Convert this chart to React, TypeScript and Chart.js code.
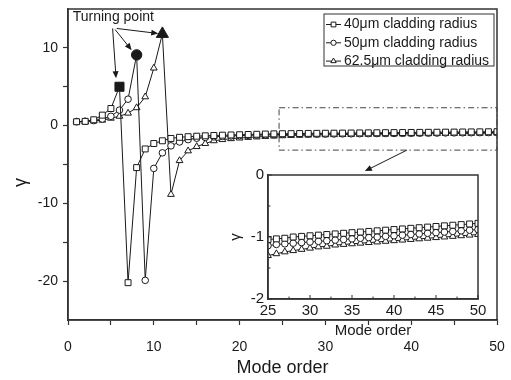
import React, { useEffect, useRef } from 'react';
import { Chart, registerables } from 'chart.js';

Chart.register(...registerables);

const FONT = "'Liberation Sans', Arial, Helvetica, sans-serif";

// ---------- data ----------
const modeOrder = [
  1, 2, 3, 4, 5, 6, 7, 8, 9, 10, 11, 12, 13, 14, 15, 16, 17, 18, 19, 20, 21, 22, 23, 24, 25,
  26, 27, 28, 29, 30, 31, 32, 33, 34, 35, 36, 37, 38, 39, 40, 41, 42, 43, 44, 45, 46, 47, 48, 49, 50,
];

const clad40 = [
  0.5, 0.55, 0.75, 1.35, 2.2, 5.0, -20.2, -5.4, -3.0, -2.3, -1.95, -1.65, -1.5, -1.42, -1.36, -1.31, -1.27,
  -1.23, -1.2, -1.17, -1.14, -1.11, -1.08, -1.06, -1.04, -1.03, -1.02, -1.0, -0.99, -0.98, -0.97, -0.96,
  -0.95, -0.94, -0.93, -0.92, -0.91, -0.9, -0.89, -0.88, -0.87, -0.86, -0.85, -0.84, -0.83, -0.82, -0.81,
  -0.8, -0.79, -0.78,
];

const clad50 = [
  0.5, 0.55, 0.65, 0.85, 1.2, 2.0, 3.4, 9.1, -19.9, -5.5, -3.5, -2.6, -2.1, -1.8, -1.62, -1.52, -1.44,
  -1.38, -1.33, -1.29, -1.25, -1.22, -1.19, -1.16, -1.14, -1.12, -1.11, -1.1, -1.09, -1.08, -1.07, -1.06,
  -1.05, -1.04, -1.03, -1.02, -1.01, -1.0, -0.99, -0.98, -0.97, -0.96, -0.95, -0.94, -0.93, -0.92, -0.91,
  -0.9, -0.89, -0.88,
];

const clad625 = [
  0.5, 0.5, 0.6, 0.7, 0.95, 1.2, 1.6, 2.3, 3.7, 7.4, 11.8, -8.85, -4.5, -3.25, -2.7, -2.3, -1.95, -1.8,
  -1.68, -1.6, -1.52, -1.46, -1.4, -1.35, -1.3, -1.27, -1.24, -1.22, -1.2, -1.18, -1.16, -1.15, -1.13,
  -1.12, -1.11, -1.1, -1.09, -1.08, -1.07, -1.06, -1.05, -1.04, -1.03, -1.02, -1.01, -1.0, -0.99, -0.98,
  -0.97, -0.96,
];

const seriesLabels = ['40\u03bcm cladding radius', '50\u03bcm cladding radius', '62.5\u03bcm cladding radius'];
const seriesValues = [clad40, clad50, clad625];
const turningIndex = [5, 7, 10];

// annotation anchors (data units of the main chart)
const turningText = 'Turning point';
const turningTextAt = [0.55, 13.95];
const turningArrows = [
  [[5.2, 12.5], [5.6, 6.1]],
  [[5.48, 12.37], [7.42, 9.7]],
  [[5.68, 12.5], [10.52, 11.85]],
];
const zoomBoxX = [24.6, 50];
const zoomBoxY = [-3.15, 2.3];
const zoomArrow = [[39.5, -3.15], [34.6, -5.85]];

// ---------- styles ----------
const pointStyles = ['rect', 'circle', 'triangle'];
const openRadius = [4.2, 3.3, 3.9];
const filledRadius = [6.4, 5.2, 7];
const INK = '#1a1a1a';
const AXIS = '#333';

function drawMarker(ctx: CanvasRenderingContext2D, style: string, x: number, y: number, r: number, fill: string) {
  ctx.beginPath();
  if (style === 'rect') {
    const s = Math.SQRT1_2 * r;
    ctx.rect(x - s, y - s, 2 * s, 2 * s);
  } else if (style === 'circle') {
    ctx.arc(x, y, r, 0, Math.PI * 2);
  } else {
    for (let k = 0; k < 3; k++) {
      const a = (k * 2 * Math.PI) / 3;
      const px = x + Math.sin(a) * r;
      const py = y - Math.cos(a) * r;
      if (k === 0) ctx.moveTo(px, py);
      else ctx.lineTo(px, py);
    }
    ctx.closePath();
  }
  ctx.fillStyle = fill;
  ctx.fill();
  ctx.stroke();
}

function drawArrow(ctx: CanvasRenderingContext2D, x1: number, y1: number, x2: number, y2: number) {
  const ang = Math.atan2(y2 - y1, x2 - x1);
  const hl = 7;
  const hw = 3;
  ctx.beginPath();
  ctx.moveTo(x1, y1);
  ctx.lineTo(x2 - Math.cos(ang) * hl * 0.8, y2 - Math.sin(ang) * hl * 0.8);
  ctx.stroke();
  ctx.beginPath();
  ctx.moveTo(x2, y2);
  ctx.lineTo(x2 - Math.cos(ang) * hl - Math.sin(ang) * hw, y2 - Math.sin(ang) * hl + Math.cos(ang) * hw);
  ctx.lineTo(x2 - Math.cos(ang) * hl + Math.sin(ang) * hw, y2 - Math.sin(ang) * hl - Math.cos(ang) * hw);
  ctx.closePath();
  ctx.fill();
}

function makeDatasets(withTurning: boolean) {
  return seriesValues.map((vals, k) => ({
    label: seriesLabels[k],
    data: modeOrder.map((m, i) => ({ x: m, y: vals[i] })),
    borderColor: INK,
    borderWidth: 1,
    pointStyle: pointStyles[k],
    pointRadius: modeOrder.map((_, i) => (withTurning && i === turningIndex[k] ? filledRadius[k] : openRadius[k])),
    pointBackgroundColor: modeOrder.map((_, i) => (withTurning && i === turningIndex[k] ? INK : '#fff')),
    pointBorderColor: INK,
    pointBorderWidth: 1,
    fill: false,
    tension: 0,
  }));
}

const mainDecor = {
  id: 'mainDecor',
  afterDraw(chart: any) {
    const { ctx, chartArea: a, scales } = chart;
    const x = scales.x;
    const y = scales.y;
    ctx.save();
    // frame
    ctx.strokeStyle = AXIS;
    ctx.lineWidth = 1.5;
    ctx.strokeRect(a.left, a.top, a.right - a.left, a.bottom - a.top);

    // zoom box (dash-dot)
    ctx.lineWidth = 1;
    ctx.strokeStyle = '#444';
    ctx.setLineDash([6, 3, 1.5, 3]);
    const bx1 = x.getPixelForValue(zoomBoxX[0]);
    const bx2 = x.getPixelForValue(zoomBoxX[1]);
    const by1 = y.getPixelForValue(zoomBoxY[1]);
    const by2 = y.getPixelForValue(zoomBoxY[0]);
    ctx.strokeRect(bx1, by1, bx2 - bx1, by2 - by1);
    ctx.setLineDash([]);

    ctx.strokeStyle = INK;
    ctx.fillStyle = INK;
    drawArrow(
      ctx,
      x.getPixelForValue(zoomArrow[0][0]),
      y.getPixelForValue(zoomArrow[0][1]),
      x.getPixelForValue(zoomArrow[1][0]),
      y.getPixelForValue(zoomArrow[1][1])
    );

    // turning point annotation
    ctx.font = `14px ${FONT}`;
    ctx.textAlign = 'left';
    ctx.textBaseline = 'middle';
    ctx.fillText(turningText, x.getPixelForValue(turningTextAt[0]), y.getPixelForValue(turningTextAt[1]));
    turningArrows.forEach(([s, e]) => {
      drawArrow(ctx, x.getPixelForValue(s[0]), y.getPixelForValue(s[1]), x.getPixelForValue(e[0]), y.getPixelForValue(e[1]));
    });

    // legend
    const lx = a.right - 173;
    const ly = a.top + 5;
    ctx.lineWidth = 1;
    ctx.strokeStyle = AXIS;
    ctx.strokeRect(lx, ly, 170, 52);
    ctx.font = `14px ${FONT}`;
    seriesLabels.forEach((lab, k) => {
      const cy = ly + 10.5 + k * 18.3;
      ctx.strokeStyle = INK;
      ctx.beginPath();
      ctx.moveTo(lx + 2, cy);
      ctx.lineTo(lx + 17, cy);
      ctx.stroke();
      drawMarker(ctx, pointStyles[k], lx + 9.5, cy, openRadius[k] * 0.8, '#fff');
      ctx.fillStyle = INK;
      ctx.fillText(lab, lx + 20, cy);
    });

    // y title
    ctx.save();
    ctx.translate(a.left - 47, (a.top + a.bottom) / 2 + 18);
    ctx.rotate(-Math.PI / 2);
    ctx.font = `18px ${FONT}`;
    ctx.textAlign = 'center';
    ctx.textBaseline = 'middle';
    ctx.fillStyle = INK;
    ctx.fillText('\u03b3', 0, 0);
    ctx.restore();

    ctx.restore();
  },
};

const insetDecor = {
  id: 'insetDecor',
  afterDraw(chart: any) {
    const { ctx, chartArea: a, scales } = chart;
    const x = scales.x;
    const y = scales.y;
    ctx.save();
    ctx.strokeStyle = AXIS;
    ctx.lineWidth = 1.5;
    ctx.strokeRect(a.left, a.top, a.right - a.left, a.bottom - a.top);
    ctx.lineWidth = 1;
    const xt = x.ticks.map((t: any) => t.value);
    xt.forEach((v: number, i: number) => {
      const px = x.getPixelForValue(v);
      ctx.beginPath();
      ctx.moveTo(px, a.bottom);
      ctx.lineTo(px, a.bottom - 4);
      ctx.stroke();
      if (i < xt.length - 1) {
        const pm = x.getPixelForValue((v + xt[i + 1]) / 2);
        ctx.beginPath();
        ctx.moveTo(pm, a.bottom);
        ctx.lineTo(pm, a.bottom - 2.5);
        ctx.stroke();
      }
    });
    const yt = y.ticks.map((t: any) => t.value);
    yt.forEach((v: number, i: number) => {
      const py = y.getPixelForValue(v);
      ctx.beginPath();
      ctx.moveTo(a.left, py);
      ctx.lineTo(a.left + 4, py);
      ctx.stroke();
      if (i < yt.length - 1) {
        const pm = y.getPixelForValue((v + yt[i + 1]) / 2);
        ctx.beginPath();
        ctx.moveTo(a.left, pm);
        ctx.lineTo(a.left + 2.5, pm);
        ctx.stroke();
      }
    });
    ctx.restore();
  },
};

export default function App() {
  const mainRef = useRef<HTMLCanvasElement>(null);
  const insetRef = useRef<HTMLCanvasElement>(null);

  useEffect(() => {
    const main = new Chart(mainRef.current!, {
      type: 'line',
      data: { datasets: makeDatasets(true) as any },
      options: {
        responsive: false,
        animation: false,
        events: [],
        layout: { padding: { left: 0, right: 14, top: 9, bottom: 0 } },
        plugins: { legend: { display: false }, tooltip: { enabled: false } },
        scales: {
          x: {
            type: 'linear',
            min: 0,
            max: 50,
            afterFit: (s: any) => {
              s.height = 60;
              s.paddingLeft = 0;
              s.paddingRight = 0;
            },
            ticks: {
              stepSize: 5,
              autoSkip: false,
              maxRotation: 0,
              padding: 14,
              color: INK,
              font: { size: 14, family: FONT },
              callback: (v: any) => (Number(v) % 10 === 0 ? String(v) : ''),
            },
            grid: { drawOnChartArea: false, drawTicks: true, tickLength: 5, tickColor: AXIS, tickWidth: 1.2 },
            border: { display: true, color: AXIS, width: 1.5 },
            title: {
              display: true,
              text: 'Mode order',
              color: INK,
              font: { size: 18, family: FONT },
              padding: { top: 0, bottom: 1 },
            },
          },
          y: {
            type: 'linear',
            min: -25,
            max: 15,
            afterFit: (s: any) => {
              s.width = 68;
              s.paddingTop = 0;
              s.paddingBottom = 0;
            },
            ticks: {
              stepSize: 5,
              autoSkip: false,
              padding: 5,
              color: INK,
              font: { size: 14, family: FONT },
              callback: (v: any) => (Number(v) % 10 === 0 ? String(v) : ''),
            },
            grid: {
              drawOnChartArea: false,
              drawTicks: true,
              tickLength: 5,
              tickWidth: 1.2,
              tickColor: (c: any) => (c.tick && (c.tick.value === -25 || c.tick.value === 15) ? 'rgba(0,0,0,0)' : AXIS),
            },
            border: { display: true, color: AXIS, width: 1.5 },
          },
        },
      },
      plugins: [mainDecor],
    } as any);

    const inset = new Chart(insetRef.current!, {
      type: 'line',
      data: { datasets: makeDatasets(false) as any },
      options: {
        responsive: false,
        animation: false,
        events: [],
        layout: { padding: { left: 0, right: 22, top: 15, bottom: 0 } },
        plugins: { legend: { display: false }, tooltip: { enabled: false } },
        scales: {
          x: {
            type: 'linear',
            min: 25,
            max: 50,
            afterFit: (s: any) => {
              s.height = 51;
              s.paddingLeft = 0;
              s.paddingRight = 0;
            },
            ticks: {
              stepSize: 5,
              autoSkip: false,
              maxRotation: 0,
              padding: 3,
              color: INK,
              font: { size: 15, family: FONT },
            },
            grid: { display: true, drawOnChartArea: false, drawTicks: false },
            border: { display: true, color: AXIS, width: 1.5 },
            title: {
              display: true,
              text: 'Mode order',
              color: INK,
              font: { size: 15, family: FONT },
              padding: { top: 0, bottom: 10 },
            },
          },
          y: {
            type: 'linear',
            min: -2,
            max: 0,
            afterFit: (s: any) => {
              s.width = 58;
              s.paddingTop = 0;
              s.paddingBottom = 0;
            },
            ticks: {
              stepSize: 1,
              autoSkip: false,
              padding: 4,
              color: INK,
              font: { size: 15, family: FONT },
            },
            grid: { display: true, drawOnChartArea: false, drawTicks: false },
            border: { display: true, color: AXIS, width: 1.5 },
            title: {
              display: true,
              text: '\u03b3',
              color: INK,
              font: { size: 15, family: FONT },
              padding: { top: 17, bottom: 0 },
            },
          },
        },
      },
      plugins: [insetDecor],
    } as any);

    return () => {
      main.destroy();
      inset.destroy();
    };
  }, []);

  return (
    <div style={{ position: 'absolute', left: 0, top: 0, width: 511, height: 380, background: '#fff' }}>
      <canvas ref={mainRef} width={511} height={380} style={{ position: 'absolute', left: 0, top: 0 }} />
      <canvas ref={insetRef} width={290} height={190} style={{ position: 'absolute', left: 210, top: 160 }} />
    </div>
  );
}
